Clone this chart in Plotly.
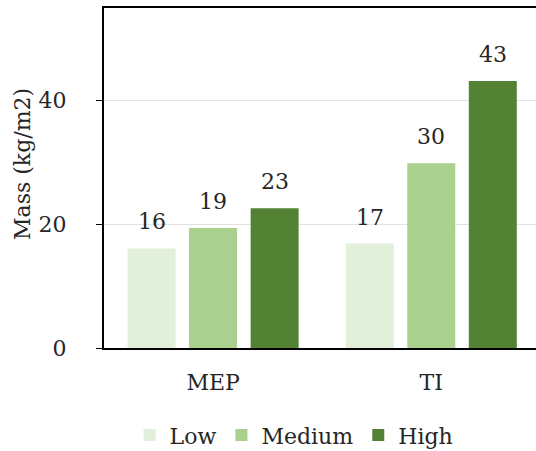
import plotly.graph_objects as go

categories = ["MEP", "TI"]
series_names = ["Low", "Medium", "High"]
low_vals = [16.1, 16.9]
medium_vals = [19.4, 29.9]
high_vals = [22.6, 43.2]
colors = ["#E2EFDA", "#A9D08E", "#548235"]
y_ticks = [0, 20, 40]

FONT = "DejaVu Serif"
TXT = "#262626"
FS = 22
BARGAP = 0.154

fig = go.Figure()
all_vals = [low_vals, medium_vals, high_vals]
for name, vals, col in zip(series_names, all_vals, colors):
    fig.add_trace(go.Bar(
        x=categories, y=vals, name=name, marker=dict(color=col, line=dict(width=0)),
    ))

# value labels above bars
slot = (1 - BARGAP) / len(series_names)
for i, vals in enumerate(all_vals):
    for j, v in enumerate(vals):
        fig.add_annotation(
            x=j + (i - 1) * slot, y=v, xref="x", yref="y",
            text=f"{v:.0f}", showarrow=False, yanchor="bottom", yshift=12,
            font=dict(family=FONT, size=FS, color=TXT),
        )

fig.add_annotation(
    x=-0.19, y=0.541, xref="paper", yref="paper", text="Mass (kg/m2)",
    textangle=-90, showarrow=False, xanchor="center", yanchor="middle",
    font=dict(family=FONT, size=FS, color=TXT),
)

fig.update_layout(
    width=536, height=451,
    margin=dict(l=104, r=0, t=8, b=103, autoexpand=False),
    paper_bgcolor="white", plot_bgcolor="white",
    barmode="group", bargap=BARGAP, bargroupgap=0.22,
    font=dict(family=FONT, size=FS, color=TXT),
    showlegend=True,
    legend=dict(orientation="h", x=0.44, xanchor="center", y=-0.195, yanchor="top",
                font=dict(family=FONT, size=FS, color=TXT), itemwidth=30,
                traceorder="normal"),
)
fig.update_xaxes(
    range=[-0.5, 1.48], showline=True, linecolor="black", linewidth=2, mirror=True,
    showgrid=False, ticks="", tickfont=dict(family=FONT, size=FS, color=TXT),
    ticklabelstandoff=14,
)
fig.update_yaxes(
    range=[0, 55], tickvals=y_ticks, showline=True, linecolor="black", linewidth=2,
    ticks="outside", ticklen=6, tickcolor="black", tickwidth=1,
    showgrid=True, gridcolor="#e3e3e3", gridwidth=1, zeroline=False,
    tickfont=dict(family=FONT, size=FS, color=TXT), ticklabelstandoff=25,
)

fig.write_html("out.html")
